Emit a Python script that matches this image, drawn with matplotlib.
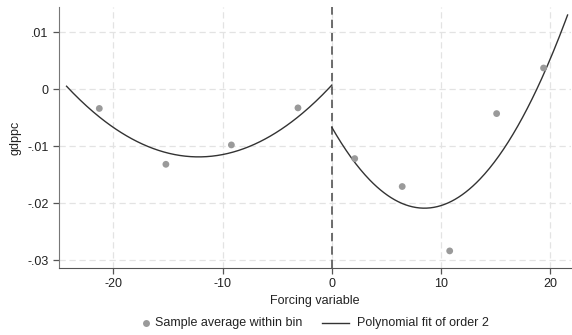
import matplotlib.pyplot as plt
import numpy as np
from matplotlib.lines import Line2D

plt.rcParams["font.family"] = ["Liberation Sans", "DejaVu Sans"]
plt.rcParams["axes.unicode_minus"] = False

# binned sample averages
bin_x = [-21.3, -15.2, -9.2, -3.1, 2.1, 6.45, 10.8, 15.1, 19.4]
bin_y = [-0.0034, -0.0132, -0.0098, -0.0033, -0.0122, -0.0171, -0.0284, -0.0043, 0.0037]

# points (left and right of cutoff)
left_fit_x = [-24.3, -12.2, 0.0]
left_fit_y = [0.0005, -0.0119, 0.0007]
right_fit_x = [0.0, 8.5, 21.6]
right_fit_y = [-0.0067, -0.0209, 0.0130]

y_ticks = [-0.03, -0.02, -0.01, 0.0, 0.01]
y_tick_labels = ["-.03", "-.02", "-.01", "0", ".01"]
x_ticks = [-20, -10, 0, 10, 20]

W, H = 572, 335
fig = plt.figure(figsize=(W / 100, H / 100), dpi=100)
ax = fig.add_axes([0.103, 0.2, 0.895, 0.779])

ax.grid(True, color="#e3e3e3", linestyle=(0, (5, 3)), linewidth=0.9)
ax.set_axisbelow(True)

for fx, fy in [(left_fit_x, left_fit_y), (right_fit_x, right_fit_y)]:
    coef = np.polyfit(fx, fy, 2)
    xs = np.linspace(fx[0], fx[-1], 200)
    ax.plot(xs, np.polyval(coef, xs), color="#333333", linewidth=1.0, zorder=3)

ax.scatter(bin_x, bin_y, s=24, color="#9a9a9a", edgecolors="none", zorder=4)

ax.axvline(0, color="#555555", linestyle=(0, (5, 3)), linewidth=1.2, zorder=2)

ax.set_xlim(-25.0, 21.9)
ax.set_ylim(-0.0314, 0.0144)
ax.set_xticks(x_ticks)
ax.set_yticks(y_ticks)
ax.set_yticklabels(y_tick_labels)

for side in ["top", "right"]:
    ax.spines[side].set_visible(False)
ax.spines["left"].set_color("#777777")
ax.spines["bottom"].set_color("#555555")
ax.tick_params(axis="both", colors="#555555", labelcolor="#222222",
               labelsize=9, length=4, width=0.9)

ax.set_xlabel("Forcing variable", fontsize=9, color="#222222", labelpad=3)
ax.set_ylabel("gdppc", fontsize=9, color="#222222", labelpad=4)

# legend drawn by hand, in figure pixels
ly = 1 - 323 / H
fig.add_artist(Line2D([146 / W], [ly], marker="o", linestyle="none",
                      color="#9a9a9a", markersize=5, markeredgewidth=0))
fig.text(155 / W, ly, "Sample average within bin", fontsize=9,
         color="#222222", va="center", ha="left")
fig.add_artist(Line2D([322 / W, 349 / W], [ly, ly], color="#333333",
                      linewidth=1.0))
fig.text(357 / W, ly, "Polynomial fit of order 2", fontsize=9,
         color="#222222", va="center", ha="left")

fig.savefig("out.png", dpi=100)
